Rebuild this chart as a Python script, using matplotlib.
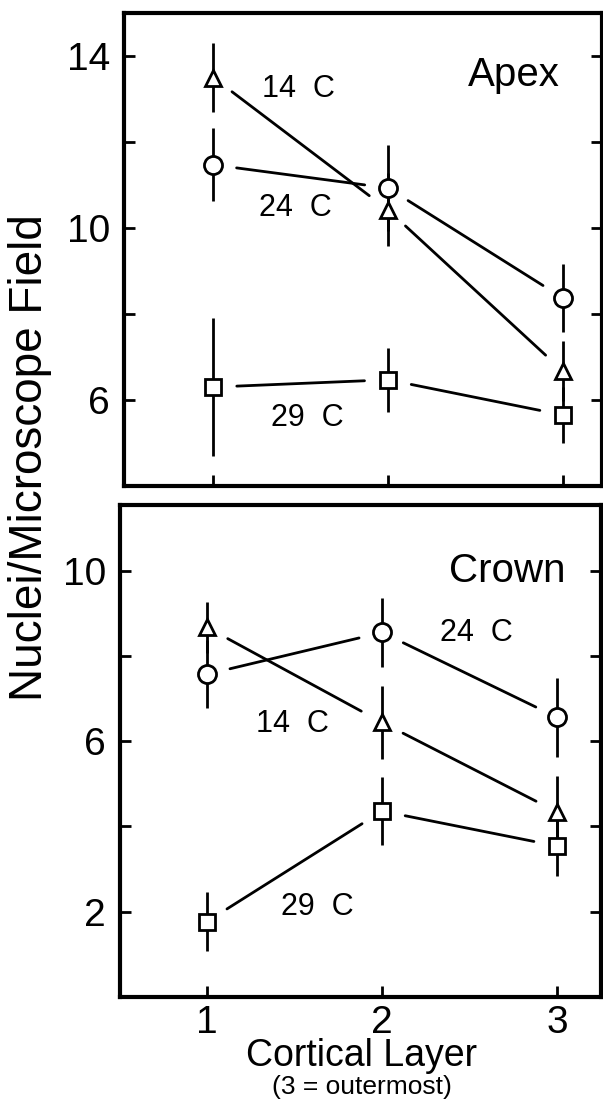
import numpy as np
import matplotlib
matplotlib.use("Agg")
import matplotlib.pyplot as plt

plt.rcParams['font.family'] = ['Liberation Sans', 'DejaVu Sans']

# Cortical layer positions
layers = [1, 2, 3]

# Apex panel: means and error bars per temperature
apex_14 = [13.5, 10.42, 6.67]
apex_14_err = [0.8, 0.85, 0.7]
apex_24 = [11.47, 10.93, 8.37]
apex_24_err = [0.85, 1.0, 0.8]
apex_29 = [6.3, 6.47, 5.65]
apex_29_err = [1.6, 0.75, 0.65]

# Crown panel
crown_14 = [8.67, 6.44, 4.34]
crown_14_err = [0.6, 0.85, 0.85]
crown_24 = [7.57, 8.55, 6.56]
crown_24_err = [0.8, 0.82, 0.93]
crown_29 = [1.77, 4.36, 3.54]
crown_29_err = [0.7, 0.8, 0.7]

apex_ticks = [6, 8, 10, 12, 14]
apex_ticklabels = ['6', '', '10', '', '14']
crown_ticks = [2, 4, 6, 8, 10]
crown_ticklabels = ['2', '', '6', '', '10']

W, H = 603, 1101
fig = plt.figure(figsize=(W / 100, H / 100), dpi=100)

# axes boxes in pixels: left, top, right, bottom
ax1 = fig.add_axes([124 / W, 1 - 486 / H, 478 / W, 473 / H])
ax2 = fig.add_axes([120 / W, 1 - 997 / H, 481 / W, 492 / H])


def draw_series(ax, y, err, marker, ms):
    # error bars first, then connecting segments with gaps, then markers on top
    ax.errorbar(layers, y, yerr=err, fmt='none', ecolor='black',
                elinewidth=2, capsize=0, zorder=2)
    for i in range(len(layers) - 1):
        ax.annotate('', xy=(layers[i + 1], y[i + 1]), xytext=(layers[i], y[i]),
                    xycoords='data', textcoords='data',
                    arrowprops=dict(arrowstyle='-', color='black', lw=2,
                                    shrinkA=17, shrinkB=17),
                    zorder=1)
    ax.plot(layers, y, linestyle='none', marker=marker, markersize=ms,
            markerfacecolor='white', markeredgecolor='black',
            markeredgewidth=2, zorder=4)


draw_series(ax1, apex_14, apex_14_err, '^', 12)
draw_series(ax1, apex_24, apex_24_err, 'o', 13)
draw_series(ax1, apex_29, apex_29_err, 's', 11)

draw_series(ax2, crown_14, crown_14_err, '^', 12)
draw_series(ax2, crown_24, crown_24_err, 'o', 13)
draw_series(ax2, crown_29, crown_29_err, 's', 11)

ax1.set_xlim(0.49, 3.223)
ax1.set_ylim(4.0, 15.0)
ax2.set_xlim(0.503, 3.251)
ax2.set_ylim(0, 11.54)

ax1.set_yticks(apex_ticks)
ax1.set_yticklabels(apex_ticklabels)
ax2.set_yticks(crown_ticks)
ax2.set_yticklabels(crown_ticklabels)

for ax in (ax1, ax2):
    ax.set_xticks(layers)
    for s in ax.spines.values():
        s.set_linewidth(3)
    ax.tick_params(axis='both', direction='in', length=8, width=2,
                   labelsize=28, pad=10)
    ax.tick_params(axis='y', right=True)
    ax.tick_params(axis='x', pad=6)

ax1.set_xticklabels([])
ax2.set_xticklabels(['1', '2', '3'])

# curve labels
lab = dict(fontsize=22, ha='center', va='center')
ax1.text(1.49, 13.23, '14  C', **lab)
ax1.text(1.47, 10.47, '24  C', **lab)
ax1.text(1.54, 5.58, '29  C', **lab)
ax1.text(2.98, 13.56, 'Apex', fontsize=29, ha='right', va='center')

ax2.text(2.54, 8.53, '24  C', **lab)
ax2.text(1.49, 6.40, '14  C', **lab)
ax2.text(1.63, 2.12, '29  C', **lab)
ax2.text(3.05, 10.0, 'Crown', fontsize=29, ha='right', va='center')

fig.text(30 / W, 1 - 458 / H, 'Nuclei/Microscope Field', rotation=90,
         fontsize=33, ha='center', va='center')
fig.text(362 / W, 1 - 1056 / H, 'Cortical Layer', fontsize=27,
         ha='center', va='center')
fig.text(362 / W, 2 / H, '(3 = outermost)', fontsize=19,
         ha='center', va='bottom')

fig.savefig('out.png', dpi=100)
